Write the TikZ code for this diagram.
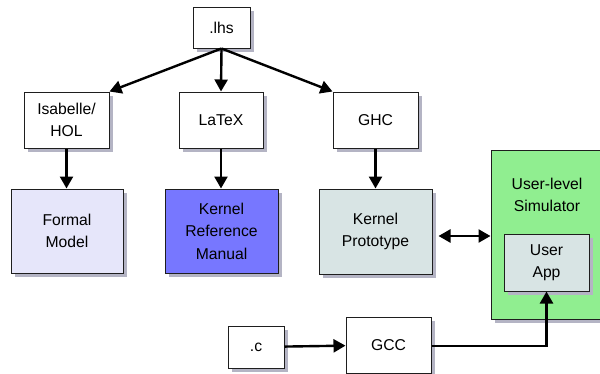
\documentclass[tikz,border=0pt]{standalone}
\usepackage{fontspec}
\setmainfont{Liberation Sans}
\usetikzlibrary{arrows.meta,shadows}
\definecolor{shadowc}{RGB}{180,180,196}
\definecolor{formalc}{RGB}{230,230,250}
\definecolor{manualc}{RGB}{119,119,255}
\definecolor{protoc}{RGB}{216,228,228}
\definecolor{simc}{RGB}{144,238,144}
\definecolor{linec}{RGB}{30,30,30}
\begin{document}
\begin{tikzpicture}[x=1pt,y=-1pt,
  box/.style={draw=linec, line width=1pt, fill=white, inner sep=0pt, align=center,
    font=\fontsize{15.7}{22.5}\selectfont,
    general shadow={fill=shadowc, shadow xshift=4pt, shadow yshift=-4pt}},
  txt/.style={inner sep=0pt, align=center, font=\fontsize{15.7}{22.5}\selectfont},
  arr/.style={line width=2.4pt, draw=black, -{Triangle[length=12pt,width=13pt]}},
  darr/.style={line width=2.4pt, draw=black, {Triangle[length=12pt,width=13pt]}-{Triangle[length=12pt,width=13pt]}}]
\useasboundingbox (0,0) rectangle (600,373);
\clip (0,0) rectangle (600,373);
% nodes
\node[box, minimum width=57pt, minimum height=41pt] (lhs) at (221.5,27.5) {.lhs};
\node[box, minimum width=85pt, minimum height=56pt] (isa) at (66.5,120) {Isabelle/\\HOL};
\node[box, minimum width=84pt, minimum height=56pt] (latex) at (221,120) {LaTeX};
\node[box, minimum width=85pt, minimum height=56pt] (ghc) at (375.5,120) {GHC};
\node[box, fill=formalc, minimum width=112pt, minimum height=84pt] (formal) at (67,231) {Formal\\Model};
\node[box, fill=manualc, minimum width=113pt, minimum height=84pt] (manual) at (221.5,231) {Kernel\\Reference\\Manual};
\node[box, fill=protoc, minimum width=113pt, minimum height=85pt] (proto) at (375.5,231.5) {Kernel\\Prototype};
\node[box, fill=simc, minimum width=112pt, minimum height=169pt] (sim) at (547,234.5) {};
\node[txt] (simlabel) at (547,195) {User-level\\Simulator};
\node[box, fill=protoc, minimum width=85pt, minimum height=57pt] (app) at (546.5,262.5) {User\\App};
\node[box, minimum width=56pt, minimum height=42pt] (c) at (256,347) {.c};
\node[box, minimum width=85pt, minimum height=56pt] (gcc) at (388.5,345) {GCC};
% connectors
\draw[arr] (lhs.south) -- (isa.north east);
\draw[arr] (lhs.south) -- (latex.north);
\draw[arr] (lhs.south) -- (ghc.north west);
\draw[arr] (isa.south) -- (formal.north -| isa.south);
\draw[arr] (latex.south) -- (manual.north -| latex.south);
\draw[arr] (ghc.south) -- (proto.north);
\draw[darr] ([shift={(6pt,-4.5pt)}]proto.east) coordinate (d1) -- (d1 -| sim.west);
\draw[arr] (c) -- (gcc);
\draw[arr] ([yshift=-1pt]gcc.east) -| (app.south);
\end{tikzpicture}
\end{document}
